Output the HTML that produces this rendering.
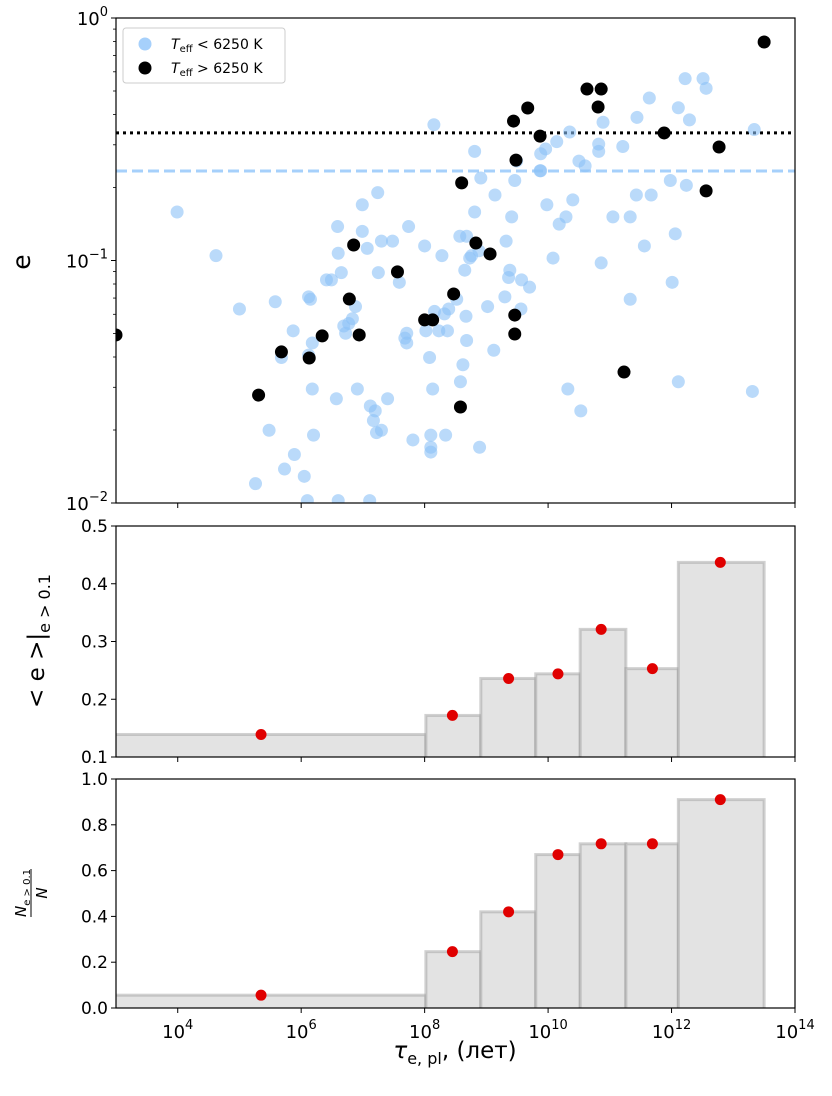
<!DOCTYPE html>
<html><head><meta charset="utf-8"><style>
body{margin:0;background:#fff}
svg{display:block;font-family:"DejaVu Sans","Liberation Sans",sans-serif}
</style></head><body>
<svg id="fig" width="832" height="1096" viewBox="0 0 832 1096"></svg>
<script>
// ---- data ----
const blueLogTau=[3.99,4.62,5.00,5.58,5.87,5.68,5.48,5.26,5.73,5.89,6.05,6.12,6.12,6.15,6.18,6.18,6.20,6.10,6.60,7.11,6.41,6.49,6.59,6.60,6.57,6.65,6.69,6.77,6.72,6.83,6.88,6.91,6.99,6.99,7.07,7.25,7.30,7.24,7.12,7.17,7.20,7.22,7.30,7.40,7.48,7.59,7.68,7.71,7.71,7.74,7.81,8.00,8.02,8.08,8.10,8.10,8.10,8.13,8.15,8.16,8.23,8.28,8.32,8.37,8.34,8.39,8.52,8.57,8.58,8.62,8.68,8.67,8.73,8.76,8.81,8.81,8.89,8.91,9.02,9.12,9.14,9.30,9.32,9.38,9.36,9.41,9.46,9.49,9.56,9.57,9.70,9.96,9.88,9.88,9.87,9.98,10.08,10.14,10.29,10.32,10.35,10.40,10.50,10.53,10.60,10.82,10.82,10.86,10.89,11.05,11.21,11.33,11.33,11.43,11.44,11.56,11.64,11.67,11.98,12.01,12.06,12.11,12.11,12.24,12.22,12.29,12.51,12.56,13.34,13.31,10.18,8.68,8.88,8.65];
const blueLogE=[-0.80,-0.98,-1.20,-1.17,-1.29,-1.40,-1.70,-1.92,-1.86,-1.80,-1.89,-1.39,-1.15,-1.16,-1.34,-1.53,-1.72,-1.99,-1.99,-1.99,-1.08,-1.08,-0.86,-0.97,-1.57,-1.05,-1.27,-1.26,-1.30,-1.24,-1.19,-1.53,-0.77,-0.88,-0.95,-1.05,-0.92,-0.72,-1.60,-1.66,-1.62,-1.71,-1.70,-1.57,-0.92,-1.09,-1.32,-1.34,-1.30,-0.86,-1.74,-0.94,-1.29,-1.40,-1.77,-1.79,-1.72,-1.53,-0.44,-1.21,-1.29,-0.98,-1.22,-1.29,-1.72,-1.20,-1.16,-0.90,-1.50,-1.43,-1.33,-1.23,-0.99,-0.98,-0.80,-0.55,-1.77,-0.66,-1.19,-1.37,-0.73,-1.15,-0.92,-1.04,-1.07,-0.82,-0.67,-0.59,-1.20,-1.08,-1.11,-0.54,-0.63,-0.56,-0.63,-0.77,-0.99,-0.51,-0.82,-1.53,-0.47,-0.75,-0.59,-1.62,-0.61,-0.52,-0.55,-1.01,-0.43,-0.82,-0.53,-0.82,-1.16,-0.73,-0.41,-0.94,-0.33,-0.73,-0.67,-1.09,-0.89,-1.50,-0.37,-0.69,-0.25,-0.42,-0.25,-0.29,-0.46,-1.54,-0.85,-0.90,-0.96,-1.04];
const blackLogTau=[3.0,13.50,10.63,10.86,9.67,10.81,9.44,9.87,11.88,12.77,9.48,8.60,12.56,8.83,9.06,6.85,7.56,6.78,8.47,8.13,8.00,6.94,9.46,6.34,5.68,6.13,9.46,11.23,5.31,8.58];
const blackLogE=[-1.307,-0.099,-0.293,-0.293,-0.371,-0.367,-0.425,-0.487,-0.474,-0.532,-0.586,-0.680,-0.713,-0.928,-0.973,-0.936,-1.047,-1.159,-1.138,-1.245,-1.245,-1.307,-1.225,-1.311,-1.377,-1.402,-1.303,-1.460,-1.555,-1.604];
const meanHot=0.336, meanCool=0.234;
const binEdgesLog=[2.9,8.02,8.91,9.80,10.52,11.26,12.11,13.50];
const binCentersLog=[5.35,8.45,9.36,10.16,10.86,11.69,12.79];
const meanE=[0.139,0.172,0.236,0.244,0.321,0.253,0.437];
const fracE=[0.056,0.246,0.42,0.67,0.717,0.717,0.91];
const xTicks=[4,6,8,10,12,14];
const yTicks2=[0.1,0.2,0.3,0.4,0.5];
const yTicks3=[0.0,0.2,0.4,0.6,0.8,1.0];
// ---- layout ----
const X0=116,X1=795;
const xs=l=>X0+(l-3)*(X1-X0)/11;
const P1={t:18,b:503}, P2={t:526,b:757}, P3={t:779,b:1008};
const y1=le=>P1.t+(0-le)*(P1.b-P1.t)/2;
const y2=v=>P2.b-(v-0.1)*(P2.b-P2.t)/0.4;
const y3=v=>P3.b-v*(P3.b-P3.t)/1.0;
const svg=document.getElementById('fig');
const NS='http://www.w3.org/2000/svg';
function mk(tag,attrs,parent){const e=document.createElementNS(NS,tag);for(const k in attrs)e.setAttribute(k,attrs[k]);(parent||svg).appendChild(e);return e;}
function txt(s,x,y,size,anchor,parent){const t=mk('text',{x:x,y:y,'font-size':size,'text-anchor':anchor||'middle',fill:'#000'},parent);t.innerHTML=s;return t;}
const defs=mk('defs',{});
[[P1,'c1'],[P2,'c2'],[P3,'c3']].forEach(([p,id])=>{const c=mk('clipPath',{id:id},defs);mk('rect',{x:X0,y:p.t,width:X1-X0,height:p.b-p.t},c);});

// ---- panel 1 ----
const g1=mk('g',{'clip-path':'url(#c1)'});


const hl1=mk('line',{x1:X0,x2:X1,y1:y1(Math.log10(meanCool)),y2:y1(Math.log10(meanCool)),stroke:'#a6d0fb','stroke-width':3,'stroke-dasharray':'11,5'},g1);


const hl2=mk('line',{x1:X0,x2:X1,y1:y1(Math.log10(meanHot)),y2:y1(Math.log10(meanHot)),stroke:'#000','stroke-width':3,'stroke-dasharray':'3,4'},g1);


for(let i=0;i<blueLogTau.length;i++){
 const c=mk('circle',{cx:xs(blueLogTau[i]),cy:y1(blueLogE[i]),r:6.5,fill:'#8cc2f7','fill-opacity':0.6},g1);
 
 
}
for(let i=0;i<blackLogTau.length;i++){
 const c=mk('circle',{cx:xs(blackLogTau[i]),cy:y1(blackLogE[i]),r:6.5,fill:'#000'},g1);
 
 
}
// ---- histogram panels ----
function hist(vals,ysc,P,clip,name){
 const g=mk('g',{'clip-path':'url(#'+clip+')'});
 
 
 for(let i=0;i<vals.length;i++){
  const xa=xs(binEdgesLog[i]),xb=xs(binEdgesLog[i+1]);
  const r=mk('rect',{x:xa,y:ysc(vals[i]),width:xb-xa,height:P.b-ysc(vals[i])+3,fill:'#e3e3e3',stroke:'#999','stroke-opacity':0.45,'stroke-width':3},g);
  
  
 }
 return g;
}
hist(meanE,y2,P2,'c2','mean-e-panel');
hist(fracE,y3,P3,'c3','fraction-panel');
for(let i=0;i<meanE.length;i++){
 const c=mk('circle',{cx:xs(binCentersLog[i]),cy:y2(meanE[i]),r:5.5,fill:'#e00000'});
 
 
 const d=mk('circle',{cx:xs(binCentersLog[i]),cy:y3(fracE[i]),r:5.5,fill:'#e00000'});
 
 
}
// ---- frames & ticks ----
[P1,P2,P3].forEach(P=>{
 const f=mk('rect',{x:X0,y:P.t,width:X1-X0,height:P.b-P.t,fill:'none',stroke:'#000','stroke-width':1.2});
 
 
 xTicks.forEach(t=>{mk('line',{x1:xs(t),x2:xs(t),y1:P.b,y2:P.b+5,stroke:'#000','stroke-width':1});});
});
xTicks.forEach(t=>{const e=txt('10<tspan dy="-9" font-size="13">'+t+'</tspan>',xs(t),P3.b+30,18);
 
 });
[[0,'10<tspan dy="-9" font-size="13">0</tspan>'],[-1,'10<tspan dy="-9" font-size="13">−1</tspan>'],[-2,'10<tspan dy="-9" font-size="13">−2</tspan>']].forEach(([v,s])=>{
 mk('line',{x1:X0-5,x2:X0,y1:y1(v),y2:y1(v),stroke:'#000'});
 const e=txt(s,X0-8,y1(v)+7,18,'end');
 
 
});
for(let d=-2;d<0;d++)for(let m=2;m<10;m++){const v=d+Math.log10(m);mk('line',{x1:X0-3,x2:X0,y1:y1(v),y2:y1(v),stroke:'#000','stroke-width':0.8});}
yTicks2.forEach(v=>{mk('line',{x1:X0-5,x2:X0,y1:y2(v),y2:y2(v),stroke:'#000'});
 const e=txt(v.toFixed(1),X0-8,y2(v)+6,17,'end');
 
 });
yTicks3.forEach(v=>{mk('line',{x1:X0-5,x2:X0,y1:y3(v),y2:y3(v),stroke:'#000'});
 const e=txt(v.toFixed(1),X0-8,y3(v)+6,17,'end');
 
 });
// axis labels
const yl1=txt('e',0,0,25);yl1.setAttribute('transform','translate(30,262) rotate(-90)');


const yl2=txt('&lt; e &gt;|<tspan font-size="16" dy="6">e &gt; 0.1</tspan>',0,0,23);yl2.setAttribute('transform','translate(44,641) rotate(-90)');


const yl3=mk('g',{transform:'translate(30,893) rotate(-90)'});


txt('<tspan font-style="italic">N</tspan><tspan font-size="10" dy="4">e &gt; 0.1</tspan>',0,-4,15,'middle',yl3);
mk('line',{x1:-24,x2:24,y1:1,y2:1,stroke:'#000','stroke-width':1},yl3);
txt('<tspan font-style="italic">N</tspan>',0,17,15,'middle',yl3);
const xl=txt('<tspan font-style="italic">τ</tspan><tspan font-size="16" dy="6">e, pl</tspan><tspan dy="-6">, (лет)</tspan>',455,1058,23);


// legend
const lg=mk('g',{});


mk('rect',{x:123,y:28,width:162,height:55,rx:3,fill:'#fff','fill-opacity':0.8,stroke:'#ccc'},lg);
const l1=mk('circle',{cx:145,cy:44,r:6.5,fill:'#a6d0fb'},lg);


const l2=mk('circle',{cx:145,cy:68,r:6.5,fill:'#000'},lg);


txt('<tspan font-style="italic">T</tspan><tspan font-size="10" dy="3">eff</tspan><tspan dy="-3"> &lt; 6250 K</tspan>',171,49,14,'start',lg);
txt('<tspan font-style="italic">T</tspan><tspan font-size="10" dy="3">eff</tspan><tspan dy="-3"> &gt; 6250 K</tspan>',171,73,14,'start',lg);
</script>
</body></html>
